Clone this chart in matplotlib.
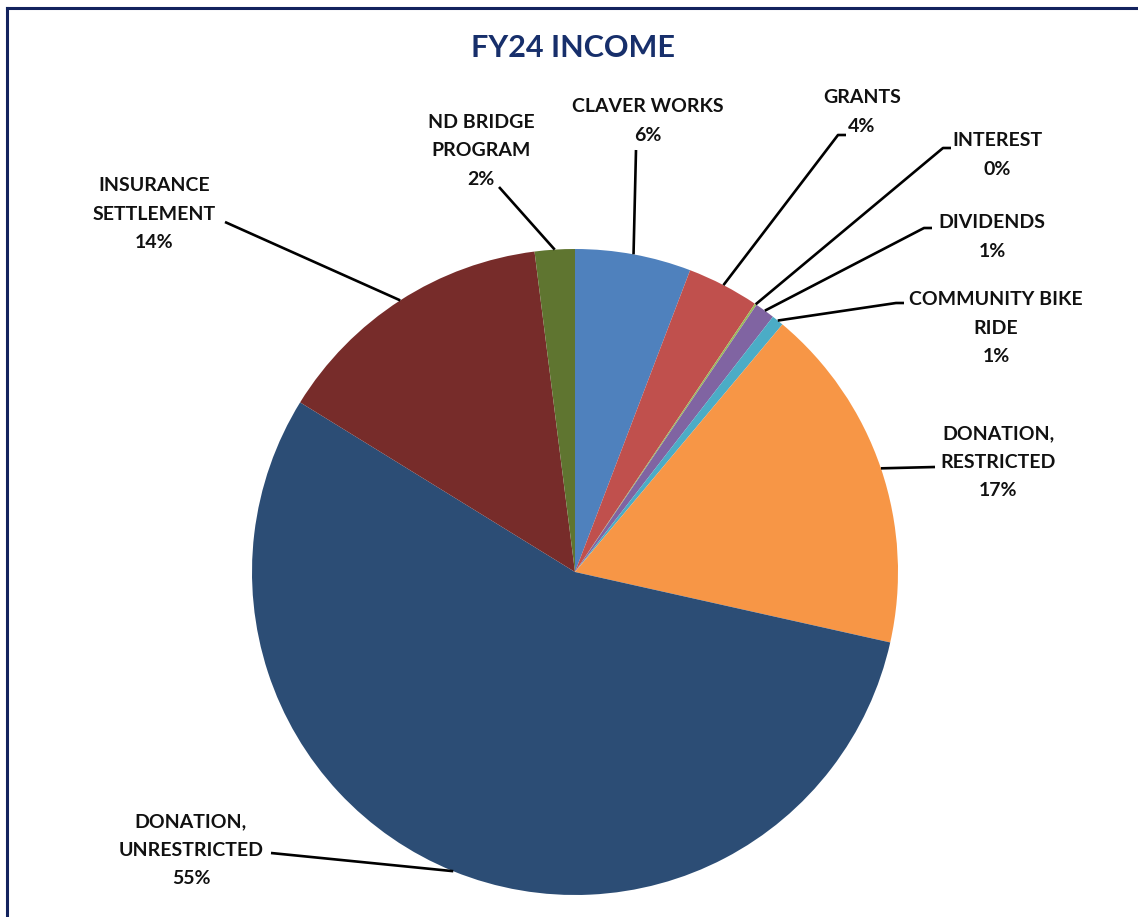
import numpy as np
import matplotlib
matplotlib.use("Agg")
import matplotlib.pyplot as plt

TITLE = "FY24 INCOME"
labels = ["CLAVER WORKS", "GRANTS", "INTEREST", "DIVIDENDS", "COMMUNITY BIKE\nRIDE",
          "DONATION,\nRESTRICTED", "DONATION,\nUNRESTRICTED", "INSURANCE\nSETTLEMENT",
          "ND BRIDGE\nPROGRAM"]
values = [5.8, 3.6, 0.1, 1.0, 0.6, 17.4, 55.3, 14.2, 2.0]
colors = ["#4F81BD", "#C0504D", "#9BBB59", "#8064A2", "#4BACC6",
          "#F79646", "#2C4D75", "#772C2A", "#5F7530"]

# label layout in pixels: text centre, leader end, optional short horizontal tail
text_pos = [(648, 121), (862, 112), (997, 155), (992, 237), (996, 328),
            (998, 462), (191, 850), (154, 214), (481, 151)]
leader_end = [(636, 150), (838, 135), (943, 148), (924, 228), (896, 303),
              (935, 467), (271, 853), (225, 222), (499, 187)]
tail_end = [None, (846, 135), (951, 148), (932, 228), (904, 303),
            None, None, None, None]

W, H, DPI = 1138, 917, 100
CX, CY, R = 575, 572, 323

plt.rcParams["font.family"] = ["Lato", "DejaVu Sans"]

fig = plt.figure(figsize=(W / DPI, H / DPI), dpi=DPI)
fig.patch.set_facecolor("white")

# frame (only left and top edges are visible in the reference)
fig.add_artist(plt.Line2D([7 / W, 7 / W], [0, 1 - 8 / H], color="#13235E", lw=2.2,
                          transform=fig.transFigure))
fig.add_artist(plt.Line2D([7 / W, 1], [1 - 8 / H, 1 - 8 / H], color="#13235E", lw=2.2,
                          transform=fig.transFigure))

ax = fig.add_axes([(CX - R) / W, (H - CY - R) / H, 2 * R / W, 2 * R / H])
wedges, _ = ax.pie(values, colors=colors, startangle=90, counterclock=False,
                   radius=1, wedgeprops=dict(linewidth=0))
ax.set_xlim(-1, 1)
ax.set_ylim(-1, 1)
ax.set_aspect("equal")
ax.axis("off")


def to_data(p):
    return ((p[0] - CX) / R, (CY - p[1]) / R)


total = sum(values)
for i, w in enumerate(wedges):
    mid = np.deg2rad((w.theta1 + w.theta2) / 2)
    edge = (np.cos(mid), np.sin(mid))
    end = to_data(leader_end[i])
    xs = [edge[0], end[0]]
    ys = [edge[1], end[1]]
    if tail_end[i] is not None:
        t = to_data(tail_end[i])
        xs.append(t[0])
        ys.append(t[1])
    ax.plot(xs, ys, color="black", lw=1.9, clip_on=False, solid_capstyle="butt")
    pct = "{:.0f}%".format(values[i] / total * 100)
    tx, ty = to_data(text_pos[i])
    ax.text(tx, ty, labels[i] + "\n" + pct, ha="center", va="center",
            multialignment="center", fontsize=14, fontweight="bold",
            color="#111111", linespacing=1.8, clip_on=False)

fig.text(573 / W, 1 - 48 / H, TITLE, ha="center", va="center", fontsize=22,
         fontweight="bold", color="#172F6B")

fig.savefig("out.png", dpi=DPI, facecolor="white")
